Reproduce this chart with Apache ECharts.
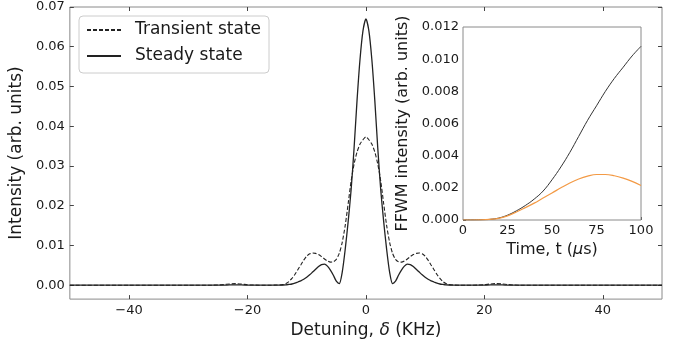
<!DOCTYPE html>
<html>
<head>
<meta charset="utf-8">
<script src="https://cdn.jsdelivr.net/npm/echarts@6/dist/echarts.min.js"></script>
<style>html,body{margin:0;padding:0;background:#fff}#c{width:679px;height:344px}</style>
</head>
<body>
<div id="c"></div>
<script>
// ---- Main panel data ----
const detuning = [-50,-40,-30,-26,-25,-24,-23,-22,-21,-20,-19,-18,-17,-16,-15,-14,-13.5,-13,-12.5,-12,-11.5,-11,-10.5,-10,-9.5,-9,-8.5,-8,-7.5,-7,-6.5,-6,-5.5,-5,-4.5,-4,-3.5,-3,-2.5,-2,-1.5,-1,-0.5,0,0.5,1,1.5,2,2.5,3,3.5,4,4.5,5,5.5,6,6.5,7,7.5,8,8.5,9,9.5,10,10.5,11,11.5,12,12.5,13,13.5,14,15,16,17,18,19,20,21,22,23,24,25,26,30,40,50];
const transientState = [0,0,0,0,0.00004,0.00015,0.0003,0.0004,0.0003,0.0001,0.00003,0,0,0,0.00003,0.00015,0.0004,0.0009,0.0017,0.0027,0.0039,0.0051,0.0063,0.0073,0.0079,0.0081,0.0080,0.0077,0.0072,0.0066,0.0061,0.0058,0.0059,0.0065,0.0080,0.0108,0.0150,0.0205,0.0262,0.0305,0.0335,0.0355,0.0366,0.0373,0.0366,0.0355,0.0335,0.0305,0.0262,0.0205,0.0150,0.0108,0.0080,0.0065,0.0059,0.0058,0.0061,0.0066,0.0072,0.0077,0.0080,0.0081,0.0079,0.0073,0.0063,0.0051,0.0039,0.0027,0.0017,0.0009,0.0004,0.00015,0.00003,0,0,0,0.00003,0.0001,0.0003,0.0004,0.0003,0.00015,0.00004,0,0,0,0];
const steadyState = [0,0,0,0,0,0.00002,0.00006,0.00008,0.00006,0.00002,0,0,0,0,0.00002,0.00005,0.0001,0.0002,0.0003,0.0005,0.0008,0.0011,0.0015,0.0020,0.0026,0.0033,0.0040,0.0047,0.0052,0.0053,0.0048,0.0038,0.0025,0.0010,0.0004,0.0033,0.0090,0.0160,0.0240,0.0345,0.0465,0.0568,0.0640,0.0670,0.0640,0.0568,0.0465,0.0345,0.0240,0.0160,0.0090,0.0033,0.0004,0.0010,0.0025,0.0038,0.0048,0.0053,0.0052,0.0047,0.0040,0.0033,0.0026,0.0020,0.0015,0.0011,0.0008,0.0005,0.0003,0.0002,0.0001,0.00005,0.00002,0,0,0,0,0.00002,0.00006,0.00008,0.00006,0.00002,0,0,0,0,0];
const mainXTicks = [-40,-20,0,20,40];
const mainYTicks = [0,0.01,0.02,0.03,0.04,0.05,0.06,0.07];

// ---- Inset data ----
const timeUs = [0,5,10,15,20,25,30,35,40,45,50,55,60,65,70,75,80,85,90,95,100];
const insetBlack = [0,0,0.00001,0.00004,0.00012,0.0003,0.00057,0.0009,0.0013,0.0018,0.0025,0.0033,0.0042,0.0052,0.0062,0.0071,0.0080,0.0088,0.0095,0.0102,0.0108];
const insetOrange = [0,0,0.00001,0.00004,0.0001,0.00026,0.0005,0.00077,0.00105,0.00137,0.00168,0.0020,0.0023,0.00255,0.00273,0.00283,0.00283,0.00275,0.0026,0.0024,0.00215];

const FONT = 'DejaVu Sans';
const TXT = '#1a1a1a';
const FRAME = '#8a8a8a';
const pair = (xs, ys) => xs.map((x, i) => [x, ys[i]]);
const minus = v => (v < 0 ? '\u2212' + Math.abs(v) : String(v));

const chart = echarts.init(document.getElementById('c'), null, {renderer: 'canvas'});
const tickIn = (vals, len) => ({show: true, inside: true, length: len, lineStyle: {color: '#444', width: 1}, customValues: vals});
const noLine = {show: false, onZero: false};

chart.setOption({
  animation: false,
  backgroundColor: '#fff',
  textStyle: {fontFamily: FONT, color: TXT},
  legend: {
    orient: 'vertical', left: 79, top: 16,
    padding: [4, 8, 7, 7], itemGap: 6, itemWidth: 34, itemHeight: 14,
    backgroundColor: '#fff', borderColor: '#cccccc', borderWidth: 1, borderRadius: 4,
    itemStyle: {opacity: 0},
    textStyle: {fontFamily: FONT, fontSize: 17, color: TXT, lineHeight: 20, padding: [0, 0, 0, 9]},
    data: ['Transient state', 'Steady state']
  },
  grid: [
    {left: 68, right: 17, top: 7, bottom: 44, show: true, borderColor: FRAME, borderWidth: 1, backgroundColor: 'transparent'},
    {left: 463, right: 38, top: 27, bottom: 124, show: true, borderColor: FRAME, borderWidth: 1, backgroundColor: '#fff', z: 5}
  ],
  xAxis: [
    {type: 'value', gridIndex: 0, min: -50, max: 50, position: 'bottom',
     axisLine: noLine, splitLine: {show: false},
     axisTick: tickIn(mainXTicks, 4),
     axisLabel: {customValues: mainXTicks, formatter: minus, fontSize: 13, color: TXT, margin: 5, fontFamily: FONT},
     name: 'Detuning, {i|δ} (KHz)', nameLocation: 'middle', nameGap: 19,
     nameTextStyle: {fontSize: 17, color: TXT, fontFamily: FONT, rich: {i: {fontStyle: 'italic', fontSize: 17, fontFamily: FONT, color: TXT}}}},
    {type: 'value', gridIndex: 0, min: -50, max: 50, position: 'top',
     axisLine: noLine, splitLine: {show: false},
     axisTick: tickIn(mainXTicks, 4), axisLabel: {show: false}},
    {type: 'value', gridIndex: 1, min: 0, max: 100, interval: 25,
     axisLine: noLine, splitLine: {show: false},
     axisTick: {show: true, inside: true, length: 3, lineStyle: {color: '#444'}},
     axisLabel: {fontSize: 13, color: TXT, margin: 4, fontFamily: FONT},
     name: 'Time, t ({i|μ}s)', nameLocation: 'middle', nameGap: 14,
     nameTextStyle: {fontSize: 16, color: TXT, fontFamily: FONT, rich: {i: {fontStyle: 'italic', fontSize: 16, fontFamily: FONT, color: TXT}}}}
  ],
  yAxis: [
    {type: 'value', gridIndex: 0, min: -0.0035, max: 0.07, position: 'left',
     axisLine: noLine, splitLine: {show: false},
     axisTick: tickIn(mainYTicks, 4),
     axisLabel: {customValues: mainYTicks, formatter: v => v.toFixed(2), fontSize: 13, color: TXT, margin: 5, fontFamily: FONT},
     name: 'Intensity (arb. units)', nameLocation: 'middle', nameGap: 35,
     nameTextStyle: {fontSize: 17, color: TXT, fontFamily: FONT}},
    {type: 'value', gridIndex: 0, min: -0.0035, max: 0.07, position: 'right',
     axisLine: noLine, splitLine: {show: false},
     axisTick: tickIn(mainYTicks, 4), axisLabel: {show: false}},
    {type: 'value', gridIndex: 1, min: 0, max: 0.012, interval: 0.002,
     axisLine: noLine, splitLine: {show: false},
     axisTick: {show: true, inside: true, length: 3, lineStyle: {color: '#444'}},
     axisLabel: {formatter: v => v.toFixed(3), fontSize: 13, color: TXT, margin: 4, fontFamily: FONT},
     name: 'FFWM intensity (arb. units)', nameLocation: 'middle', nameGap: 52,
     nameTextStyle: {fontSize: 16, color: TXT, fontFamily: FONT}}
  ],
  series: [
    {name: 'Transient state', type: 'line', xAxisIndex: 0, yAxisIndex: 0, symbol: 'none', smooth: 0.25,
     data: pair(detuning, transientState), lineStyle: {color: '#222', width: 1.1, type: [4, 2]}, itemStyle: {color: '#222'}, z: 2},
    {name: 'Steady state', type: 'line', xAxisIndex: 0, yAxisIndex: 0, symbol: 'none', smooth: 0.25,
     data: pair(detuning, steadyState), lineStyle: {color: '#222', width: 1.3}, itemStyle: {color: '#222'}, z: 3},
    {name: 'inset steady', type: 'line', xAxisIndex: 2, yAxisIndex: 2, symbol: 'none', smooth: 0.4,
     data: pair(timeUs, insetBlack), lineStyle: {color: '#333', width: 1}, z: 6},
    {name: 'inset transient', type: 'line', xAxisIndex: 2, yAxisIndex: 2, symbol: 'none', smooth: 0.4,
     data: pair(timeUs, insetOrange), lineStyle: {color: '#f39a45', width: 1.2}, z: 6}
  ]
});
</script>
</body>
</html>
